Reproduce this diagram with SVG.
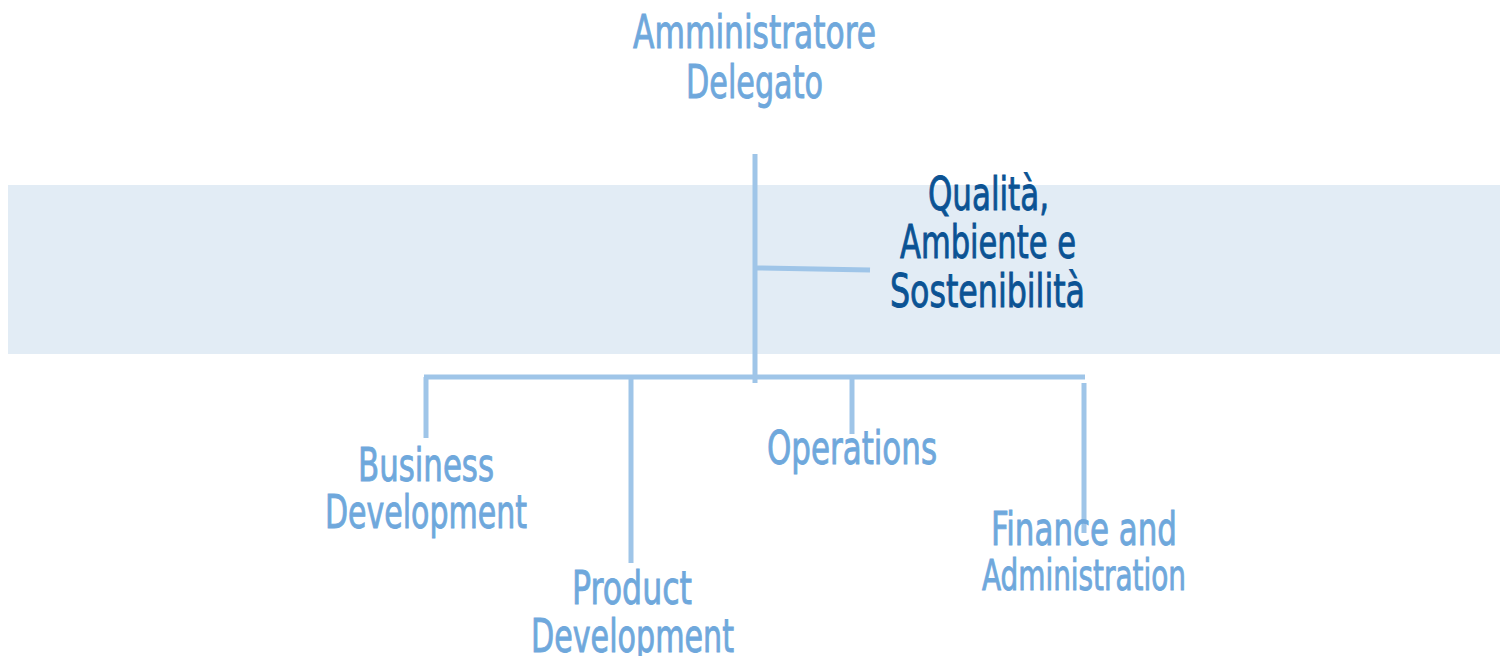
<svg xmlns="http://www.w3.org/2000/svg" width="1506" height="656" viewBox="0 0 1506 656">
<style>
.t{font-family:"Liberation Sans Narrow","DejaVu Sans Condensed",sans-serif;font-size:47px;text-anchor:middle;fill:#6fa8dc;stroke:#6fa8dc;stroke-width:0.9}
.d{fill:#0b5394;stroke:#0b5394}
.c{stroke:#9fc5e8;stroke-width:5;fill:none;stroke-linecap:butt}
</style>
<rect x="8" y="185" width="1492" height="169" fill="#e2ecf5"/>
<g id="connectors">
<line class="c" x1="755" y1="154" x2="755" y2="383"/>
<line class="c" x1="757" y1="268" x2="870" y2="270"/>
<line class="c" x1="424" y1="377" x2="1085" y2="377"/>
<line class="c" x1="426" y1="377" x2="426" y2="438"/>
<line class="c" x1="631" y1="379" x2="631" y2="563"/>
<line class="c" x1="852" y1="379" x2="852" y2="434"/>
<line class="c" x1="1084" y1="383" x2="1084" y2="533"/>
</g>
<g id="ad">
<text class="t" x="754.5" y="48" textLength="243" lengthAdjust="spacingAndGlyphs">Amministratore</text>
<text class="t" x="754.5" y="98" textLength="137" lengthAdjust="spacingAndGlyphs">Delegato</text>
</g>
<g id="qas">
<text class="t d" x="988.5" y="210" textLength="121" lengthAdjust="spacingAndGlyphs">Qualità,</text>
<text class="t d" x="988" y="258" textLength="176" lengthAdjust="spacingAndGlyphs">Ambiente e</text>
<text class="t d" x="987.5" y="307" textLength="195" lengthAdjust="spacingAndGlyphs">Sostenibilità</text>
</g>
<g id="bd">
<text class="t" x="426" y="481" textLength="136" lengthAdjust="spacingAndGlyphs">Business</text>
<text class="t" x="426" y="528" textLength="202" lengthAdjust="spacingAndGlyphs">Development</text>
</g>
<g id="pd">
<text class="t" x="632" y="604" textLength="120" lengthAdjust="spacingAndGlyphs">Product</text>
<text class="t" x="632.5" y="652" textLength="203" lengthAdjust="spacingAndGlyphs">Development</text>
</g>
<g id="ops">
<text class="t" x="852" y="464" textLength="170" lengthAdjust="spacingAndGlyphs">Operations</text>
</g>
<g id="fa">
<text class="t" x="1084" y="545" textLength="186" lengthAdjust="spacingAndGlyphs">Finance and</text>
<text class="t" x="1084" y="590" style="font-size:42px" textLength="204" lengthAdjust="spacingAndGlyphs">Administration</text>
</g>
</svg>
